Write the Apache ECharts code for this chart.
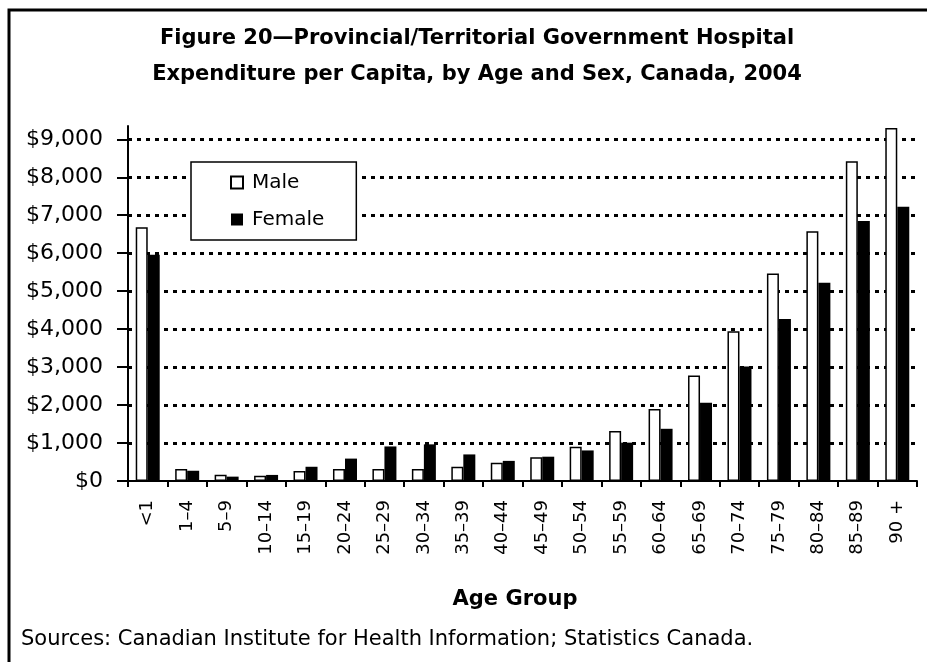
<!DOCTYPE html>
<html>
<head>
<meta charset="utf-8">
<script src="https://cdn.jsdelivr.net/npm/echarts@6/dist/echarts.min.js"></script>
<style>
  html, body { margin: 0; padding: 0; background: #fff; }
  #chart { width: 927px; height: 662px; }
</style>
</head>
<body>
<div id="chart"></div>
<script>
const categories = ['<1', '1–4', '5–9', '10–14', '15–19', '20–24', '25–29', '30–34', '35–39', '40–44',
  '45–49', '50–54', '55–59', '60–64', '65–69', '70–74', '75–79', '80–84', '85–89', '90 +'];
const maleValues = [6680, 315, 165, 140, 265, 315, 315, 315, 375, 480,
  625, 900, 1315, 1895, 2780, 3945, 5465, 6580, 8420, 9300];
const femaleValues = [5960, 270, 115, 160, 375, 590, 910, 965, 700, 530,
  640, 805, 1010, 1375, 2060, 3015, 4270, 5220, 6850, 7220];
const yTicks = [0, 1000, 2000, 3000, 4000, 5000, 6000, 7000, 8000, 9000];

const chart = echarts.init(document.getElementById('chart'));
const font = 'DejaVu Sans';

chart.setOption({
  backgroundColor: '#fff',
  animation: false,
  textStyle: { fontFamily: font, color: '#000' },
  title: [
    {
      text: 'Figure 20—Provincial/Territorial Government Hospital\nExpenditure per Capita, by Age and Sex, Canada, 2004',
      left: 472, top: 16, textAlign: 'center',
      textStyle: { fontFamily: font, fontWeight: 'bold', fontSize: 21, lineHeight: 36, color: '#000' }
    },
    {
      text: 'Age Group',
      left: 510, top: 584, textAlign: 'center',
      textStyle: { fontFamily: font, fontWeight: 'bold', fontSize: 21, color: '#000' }
    },
    {
      text: 'Sources: Canadian Institute for Health Information; Statistics Canada.',
      left: 16, top: 624,
      textStyle: { fontFamily: font, fontWeight: 'normal', fontSize: 21, color: '#000' }
    }
  ],
  graphic: [{
    type: 'rect',
    shape: { x: 9, y: 10, width: 940, height: 680 },
    style: { fill: null, stroke: '#000', lineWidth: 3 },
    silent: true
  }],
  legend: {
    orient: 'vertical',
    left: 191, top: 162,
    padding: [10, 32, 10, 39],
    itemGap: 16,
    itemWidth: 12, itemHeight: 12,
    backgroundColor: '#fff',
    borderColor: '#000', borderWidth: 1.5,
    textStyle: { fontFamily: font, fontSize: 20, lineHeight: 21, color: '#000', padding: [0, 0, 0, 4] },
    data: [{ name: 'Male', icon: 'rect' }, { name: 'Female', icon: 'rect' }]
  },
  grid: { left: 128, right: 10, top: 126, bottom: 181 },
  xAxis: {
    type: 'category',
    data: categories,
    axisLine: { lineStyle: { color: '#000', width: 2 } },
    axisTick: { show: true, length: 6, lineStyle: { color: '#000', width: 2 } },
    axisLabel: {
      rotate: 90, margin: 19, interval: 0,
      fontFamily: font, fontSize: 18, color: '#000'
    }
  },
  yAxis: {
    type: 'value',
    min: 0, max: 9350, interval: 1000,
    axisLine: { show: true, lineStyle: { color: '#000', width: 2 } },
    axisTick: { show: true, length: 11, customValues: yTicks, lineStyle: { color: '#000', width: 2 } },
    axisLabel: {
      customValues: yTicks, margin: 25,
      fontFamily: font, fontSize: 22, color: '#000',
      formatter: v => '$' + v.toLocaleString('en-US')
    },
    splitLine: {
      show: true, showMinLine: false,
      lineStyle: { color: '#000', width: 3, type: [4, 5] }
    }
  },
  series: [
    {
      name: 'Male', type: 'bar', data: maleValues,
      barWidth: 12, barGap: '0%',
      itemStyle: { color: '#fff', borderColor: '#000', borderWidth: 1.5 }
    },
    {
      name: 'Female', type: 'bar', data: femaleValues,
      barWidth: 12, barGap: '0%',
      itemStyle: { color: '#000', borderColor: '#000', borderWidth: 0 }
    }
  ]
});
</script>
</body>
</html>
